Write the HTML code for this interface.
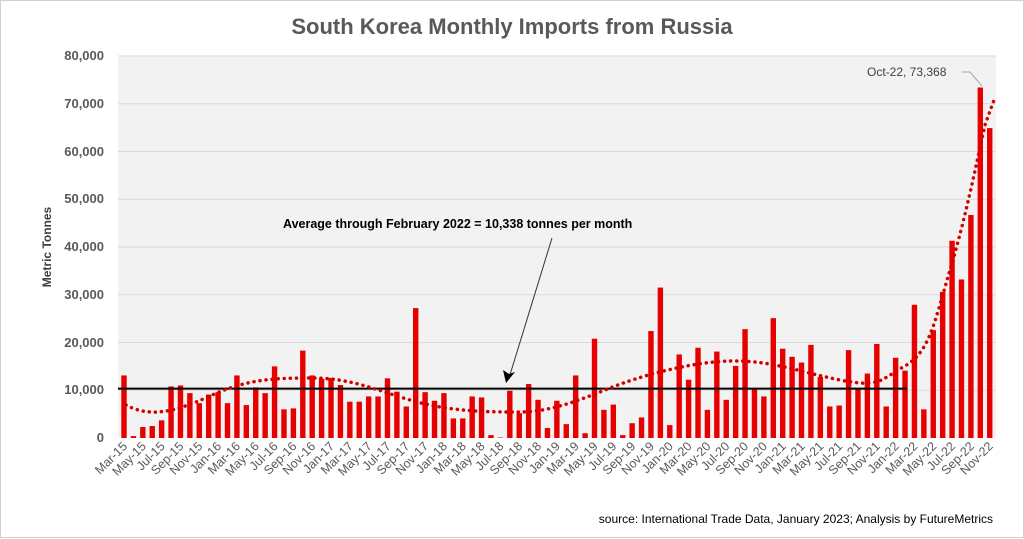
<!DOCTYPE html>
<html><head><meta charset="utf-8"><style>
html,body{margin:0;padding:0;background:#fff;}
svg{display:block;font-family:"Liberation Sans",sans-serif;}
</style></head><body>
<svg width="1024" height="539" viewBox="0 0 1024 539" xmlns="http://www.w3.org/2000/svg">
<rect x="0.5" y="0.5" width="1023" height="537" fill="#fff" stroke="#d0d0d0"/>
<rect x="118" y="56" width="878" height="382" fill="#f2f2f2"/>
<g stroke="#d9d9d9" stroke-width="1">
<line x1="118" x2="996" y1="56" y2="56"/><line x1="118" x2="996" y1="103.75" y2="103.75"/>
<line x1="118" x2="996" y1="151.5" y2="151.5"/><line x1="118" x2="996" y1="199.25" y2="199.25"/>
<line x1="118" x2="996" y1="247" y2="247"/><line x1="118" x2="996" y1="294.75" y2="294.75"/>
<line x1="118" x2="996" y1="342.5" y2="342.5"/><line x1="118" x2="996" y1="390.25" y2="390.25"/>
</g>
<text x="512" y="34" text-anchor="middle" font-size="22" font-weight="bold" fill="#595959">South Korea Monthly Imports from Russia</text>
<g font-size="13" font-weight="bold" fill="#595959" text-anchor="end">
<text x="104" y="60">80,000</text><text x="104" y="108">70,000</text><text x="104" y="156">60,000</text>
<text x="104" y="203">50,000</text><text x="104" y="251">40,000</text><text x="104" y="299">30,000</text>
<text x="104" y="347">20,000</text><text x="104" y="394">10,000</text><text x="104" y="442">0</text>
</g>
<text transform="translate(51,247) rotate(-90)" text-anchor="middle" font-size="12" font-weight="bold" fill="#404040">Metric Tonnes</text>
<g fill="#e60000" transform="translate(0,438) scale(1,-4.775)">
<rect x="121.3" y="0" width="5.4" height="13.1"/><rect x="130.71" y="0" width="5.4" height="0.4"/><rect x="140.12" y="0" width="5.4" height="2.3"/><rect x="149.53" y="0" width="5.4" height="2.5"/><rect x="158.94" y="0" width="5.4" height="3.7"/><rect x="168.35" y="0" width="5.4" height="10.8"/><rect x="177.76" y="0" width="5.4" height="11"/><rect x="187.17" y="0" width="5.4" height="9.4"/><rect x="196.58" y="0" width="5.4" height="7.3"/><rect x="205.99" y="0" width="5.4" height="9.1"/>
<rect x="215.4" y="0" width="5.4" height="9.6"/><rect x="224.81" y="0" width="5.4" height="7.3"/><rect x="234.22" y="0" width="5.4" height="13.1"/><rect x="243.63" y="0" width="5.4" height="6.9"/><rect x="253.04" y="0" width="5.4" height="10.6"/><rect x="262.45" y="0" width="5.4" height="9.4"/><rect x="271.86" y="0" width="5.4" height="15"/><rect x="281.27" y="0" width="5.4" height="6"/><rect x="290.68" y="0" width="5.4" height="6.2"/><rect x="300.09" y="0" width="5.4" height="18.3"/>
<rect x="309.5" y="0" width="5.4" height="13.1"/><rect x="318.91" y="0" width="5.4" height="12.4"/><rect x="328.32" y="0" width="5.4" height="12.6"/><rect x="337.73" y="0" width="5.4" height="11.1"/><rect x="347.14" y="0" width="5.4" height="7.6"/><rect x="356.55" y="0" width="5.4" height="7.6"/><rect x="365.96" y="0" width="5.4" height="8.7"/><rect x="375.37" y="0" width="5.4" height="8.7"/><rect x="384.78" y="0" width="5.4" height="12.5"/><rect x="394.19" y="0" width="5.4" height="9.7"/>
<rect x="403.6" y="0" width="5.4" height="6.6"/><rect x="413.01" y="0" width="5.4" height="27.2"/><rect x="422.42" y="0" width="5.4" height="9.6"/><rect x="431.83" y="0" width="5.4" height="7.8"/><rect x="441.24" y="0" width="5.4" height="9.4"/><rect x="450.65" y="0" width="5.4" height="4.1"/><rect x="460.06" y="0" width="5.4" height="4.1"/><rect x="469.47" y="0" width="5.4" height="8.7"/><rect x="478.88" y="0" width="5.4" height="8.5"/><rect x="488.29" y="0" width="5.4" height="0.6"/>
<rect x="497.7" y="0" width="5.4" height="0.1"/><rect x="507.11" y="0" width="5.4" height="9.9"/><rect x="516.52" y="0" width="5.4" height="5.2"/><rect x="525.93" y="0" width="5.4" height="11.3"/><rect x="535.34" y="0" width="5.4" height="8"/><rect x="544.75" y="0" width="5.4" height="2.1"/><rect x="554.16" y="0" width="5.4" height="7.8"/><rect x="563.57" y="0" width="5.4" height="2.9"/><rect x="572.98" y="0" width="5.4" height="13.1"/><rect x="582.39" y="0" width="5.4" height="1"/>
<rect x="591.8" y="0" width="5.4" height="20.8"/><rect x="601.21" y="0" width="5.4" height="5.9"/><rect x="610.62" y="0" width="5.4" height="7"/><rect x="620.03" y="0" width="5.4" height="0.6"/><rect x="629.44" y="0" width="5.4" height="3.1"/><rect x="638.85" y="0" width="5.4" height="4.3"/><rect x="648.26" y="0" width="5.4" height="22.4"/><rect x="657.67" y="0" width="5.4" height="31.5"/><rect x="667.08" y="0" width="5.4" height="2.7"/><rect x="676.49" y="0" width="5.4" height="17.5"/>
<rect x="685.9" y="0" width="5.4" height="12.2"/><rect x="695.31" y="0" width="5.4" height="18.9"/><rect x="704.72" y="0" width="5.4" height="5.9"/><rect x="714.13" y="0" width="5.4" height="18.1"/><rect x="723.54" y="0" width="5.4" height="8"/><rect x="732.95" y="0" width="5.4" height="15.1"/><rect x="742.36" y="0" width="5.4" height="22.8"/><rect x="751.77" y="0" width="5.4" height="10.2"/><rect x="761.18" y="0" width="5.4" height="8.7"/><rect x="770.59" y="0" width="5.4" height="25.1"/>
<rect x="780" y="0" width="5.4" height="18.7"/><rect x="789.41" y="0" width="5.4" height="17"/><rect x="798.82" y="0" width="5.4" height="15.8"/><rect x="808.23" y="0" width="5.4" height="19.5"/><rect x="817.64" y="0" width="5.4" height="12.8"/><rect x="827.05" y="0" width="5.4" height="6.6"/><rect x="836.46" y="0" width="5.4" height="6.8"/><rect x="845.87" y="0" width="5.4" height="18.4"/><rect x="855.28" y="0" width="5.4" height="10.2"/><rect x="864.69" y="0" width="5.4" height="13.5"/>
<rect x="874.1" y="0" width="5.4" height="19.7"/><rect x="883.51" y="0" width="5.4" height="6.6"/><rect x="892.92" y="0" width="5.4" height="16.8"/><rect x="902.33" y="0" width="5.4" height="14.1"/><rect x="911.74" y="0" width="5.4" height="27.9"/><rect x="921.15" y="0" width="5.4" height="6"/><rect x="930.56" y="0" width="5.4" height="22.6"/><rect x="939.97" y="0" width="5.4" height="30.6"/><rect x="949.38" y="0" width="5.4" height="41.3"/><rect x="958.79" y="0" width="5.4" height="33.2"/>
<rect x="968.2" y="0" width="5.4" height="46.7"/><rect x="977.61" y="0" width="5.4" height="73.4"/><rect x="987.02" y="0" width="5.4" height="64.9"/>
</g>
<line x1="118" x2="907" y1="388.6" y2="388.6" stroke="#000" stroke-width="2"/>
<path d="M126,405 C150,418 175,412 210,396 S270,378 310,378 S370,388 410,400 S490,412 520,412 S580,400 610,388 S690,362 730,361 S800,372 840,380 S880,380 905,366 S935,320 950,270 S975,170 985,125 L994,100" fill="none" stroke="#d40000" stroke-width="3.5" stroke-dasharray="0.1 6" stroke-linecap="round"/>
<text x="283" y="228" font-size="12.5" font-weight="bold" fill="#000">Average through February 2022 = 10,338 tonnes per month</text>
<line x1="552" y1="238" x2="509" y2="378" stroke="#333" stroke-width="1"/>
<path d="M506,383 L503,370 L509,374 L515,372 Z" fill="#000"/>
<text x="867" y="76" font-size="12" fill="#404040">Oct-22, 73,368</text>
<polyline points="962,72 970,72 982,86" fill="none" stroke="#a6a6a6" stroke-width="1"/>
<g font-size="12.5" fill="#595959" text-anchor="end">
<text transform="translate(128,447) rotate(-45)">Mar-15</text><text transform="translate(146.82,447) rotate(-45)">May-15</text><text transform="translate(165.64,447) rotate(-45)">Jul-15</text><text transform="translate(184.46,447) rotate(-45)">Sep-15</text><text transform="translate(203.28,447) rotate(-45)">Nov-15</text><text transform="translate(222.1,447) rotate(-45)">Jan-16</text><text transform="translate(240.92,447) rotate(-45)">Mar-16</text><text transform="translate(259.74,447) rotate(-45)">May-16</text>
<text transform="translate(278.56,447) rotate(-45)">Jul-16</text><text transform="translate(297.38,447) rotate(-45)">Sep-16</text><text transform="translate(316.2,447) rotate(-45)">Nov-16</text><text transform="translate(335.02,447) rotate(-45)">Jan-17</text><text transform="translate(353.84,447) rotate(-45)">Mar-17</text><text transform="translate(372.66,447) rotate(-45)">May-17</text><text transform="translate(391.48,447) rotate(-45)">Jul-17</text><text transform="translate(410.3,447) rotate(-45)">Sep-17</text>
<text transform="translate(429.12,447) rotate(-45)">Nov-17</text><text transform="translate(447.94,447) rotate(-45)">Jan-18</text><text transform="translate(466.76,447) rotate(-45)">Mar-18</text><text transform="translate(485.58,447) rotate(-45)">May-18</text><text transform="translate(504.4,447) rotate(-45)">Jul-18</text><text transform="translate(523.22,447) rotate(-45)">Sep-18</text><text transform="translate(542.04,447) rotate(-45)">Nov-18</text><text transform="translate(560.86,447) rotate(-45)">Jan-19</text>
<text transform="translate(579.68,447) rotate(-45)">Mar-19</text><text transform="translate(598.5,447) rotate(-45)">May-19</text><text transform="translate(617.32,447) rotate(-45)">Jul-19</text><text transform="translate(636.14,447) rotate(-45)">Sep-19</text><text transform="translate(654.96,447) rotate(-45)">Nov-19</text><text transform="translate(673.78,447) rotate(-45)">Jan-20</text><text transform="translate(692.6,447) rotate(-45)">Mar-20</text><text transform="translate(711.42,447) rotate(-45)">May-20</text>
<text transform="translate(730.24,447) rotate(-45)">Jul-20</text><text transform="translate(749.06,447) rotate(-45)">Sep-20</text><text transform="translate(767.88,447) rotate(-45)">Nov-20</text><text transform="translate(786.7,447) rotate(-45)">Jan-21</text><text transform="translate(805.52,447) rotate(-45)">Mar-21</text><text transform="translate(824.34,447) rotate(-45)">May-21</text><text transform="translate(843.16,447) rotate(-45)">Jul-21</text><text transform="translate(861.98,447) rotate(-45)">Sep-21</text>
<text transform="translate(880.8,447) rotate(-45)">Nov-21</text><text transform="translate(899.62,447) rotate(-45)">Jan-22</text><text transform="translate(918.44,447) rotate(-45)">Mar-22</text><text transform="translate(937.26,447) rotate(-45)">May-22</text><text transform="translate(956.08,447) rotate(-45)">Jul-22</text><text transform="translate(974.9,447) rotate(-45)">Sep-22</text><text transform="translate(993.72,447) rotate(-45)">Nov-22</text>
</g>
<text x="993" y="523" text-anchor="end" font-size="12" fill="#000">source: International Trade Data, January 2023;  Analysis by FutureMetrics</text>
</svg>
</body></html>
